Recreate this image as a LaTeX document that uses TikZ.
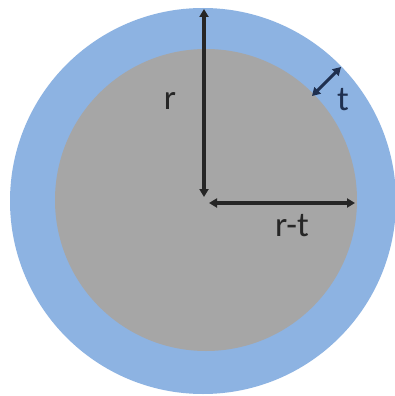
\documentclass[tikz,border=0pt]{standalone}
\usepackage{fontspec}
\setmainfont{Carlito}
\usetikzlibrary{arrows.meta}
\definecolor{shellblue}{HTML}{8DB3E2}
\definecolor{coregray}{HTML}{A6A6A6}
\definecolor{arrowdark}{HTML}{262626}
\definecolor{tnavy}{HTML}{1F3050}
\begin{document}
\begin{tikzpicture}[x=1pt,y=-1pt,
  dimarrow/.style={draw=arrowdark,line width=3.5pt,{Triangle[length=8pt,width=9pt]}-{Triangle[length=8pt,width=9pt]}},
  lbl/.style={font=\fontsize{35}{40}\selectfont,text=arrowdark,inner sep=0pt}]
\useasboundingbox (0,0) rectangle (395,396);
\fill[white] (0,0) rectangle (395,396);
\fill[shellblue] (203,201) circle (193);
\fill[coregray] (206,200) circle (151);
\coordinate (c1) at (204,197);
\coordinate (top) at (204,9);
\coordinate (c2) at (209,203);
\coordinate (rgt) at (355,203);
\coordinate (t1) at (312,96);
\coordinate (t2) at (341,67);
\draw[dimarrow] (c1) -- (top);
\draw[dimarrow] (c2) -- (rgt);
\draw[dimarrow,draw=tnavy,line width=3pt] (t1) -- (t2);
\node[lbl] (rl) at (170,101) {r};
\node[lbl] (rtl) at (292,226) {r-t};
\node[lbl,text=tnavy] (tl) at (343,100) {t};
\end{tikzpicture}
\end{document}
